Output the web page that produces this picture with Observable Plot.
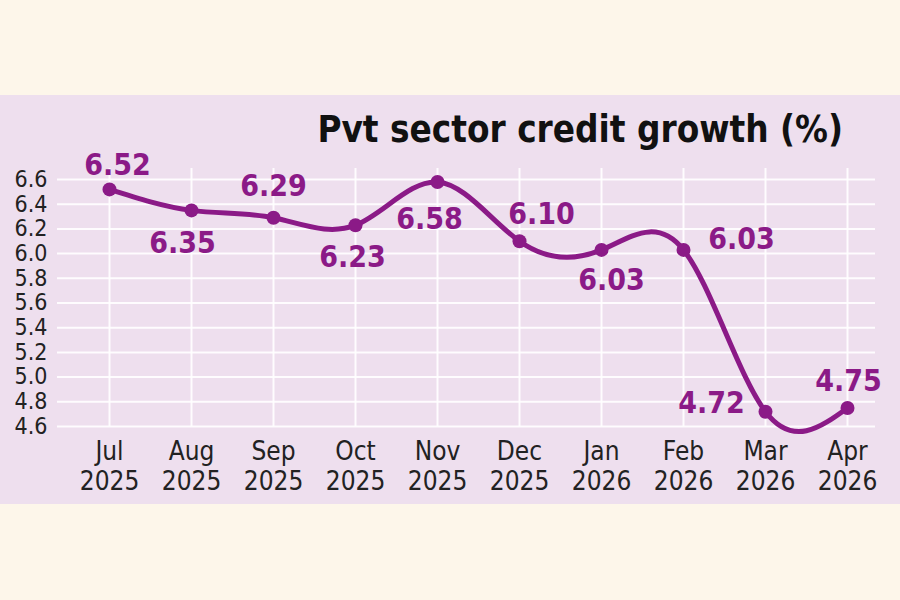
<!DOCTYPE html>
<html>
<head>
<meta charset="utf-8">
<script src="https://cdn.jsdelivr.net/npm/d3@7"></script>
<script src="https://cdn.jsdelivr.net/npm/@observablehq/plot@0.6"></script>
<style>
  html, body { margin: 0; padding: 0; background: #fdf6ea; width: 900px; height: 600px; overflow: hidden; }
  #panel { position: absolute; left: 0; top: 95px; width: 900px; height: 409px; background: #eedfee; }
  #title { position: absolute; right: 57px; top: 17px; font-family: "DejaVu Sans Condensed", "Liberation Sans Narrow", sans-serif; font-weight: bold; font-size: 36.5px; line-height: 1; color: #111; white-space: nowrap; }
  #chart { position: absolute; left: 0; top: 0; }
</style>
</head>
<body>
<div id="panel">
  <div id="chart"></div>
  <div id="title">Pvt sector credit growth (%)</div>
</div>
<script>
const months = ["Jul", "Aug", "Sep", "Oct", "Nov", "Dec", "Jan", "Feb", "Mar", "Apr"];
const years = ["2025", "2025", "2025", "2025", "2025", "2025", "2026", "2026", "2026", "2026"];
const values = [6.52, 6.35, 6.29, 6.23, 6.58, 6.10, 6.03, 6.03, 4.72, 4.75];
const labels = ["6.52", "6.35", "6.29", "6.23", "6.58", "6.10", "6.03", "6.03", "4.72", "4.75"];
const yTicks = [4.6, 4.8, 5.0, 5.2, 5.4, 5.6, 5.8, 6.0, 6.2, 6.4, 6.6];

// label placement (offsets from each point, in px)
const labelOffsets = [[8, -24], [-9, 33], [0, -31], [-3, 32], [-8, 37], [22, -27], [10, 30], [58, -11], [-54, -8], [1, -27]];

const cats = months.map((m, i) => `${m}\n${years[i]}`);
const data = cats.map((c, i) => ({cat: c, value: values[i], label: labels[i]}));

const purple = "#8b1a87";
const font = '"DejaVu Sans Condensed", "Liberation Sans Narrow", sans-serif';

const labelMarks = data.map((d, i) => Plot.text([d], {
  x: "cat", y: "value", text: "label",
  dx: labelOffsets[i][0], dy: labelOffsets[i][1],
  fill: purple, fontSize: 30, fontWeight: "bold", fontFamily: font, lineAnchor: "middle"
}));

const chart = Plot.plot({
  width: 900,
  height: 409,
  marginTop: 84,
  marginBottom: 78,
  marginLeft: 106,
  marginRight: 50,
  style: {background: "transparent", fontFamily: font, overflow: "visible"},
  x: {type: "point", domain: cats, padding: 0, axis: null},
  y: {domain: [4.6, 6.6], axis: null},
  marks: [
    Plot.ruleY(yTicks, {stroke: "#ffffff", strokeWidth: 2, strokeOpacity: 0.9, insetLeft: -49, insetRight: -25}),
    Plot.ruleX(cats, {stroke: "#ffffff", strokeWidth: 2, strokeOpacity: 0.9, insetTop: -11}),
    Plot.axisY({ticks: yTicks, tickSize: 0, tickPadding: 59, fontSize: 23, fill: "#222", tickFormat: d => d.toFixed(1), label: null}),
    Plot.axisX({tickSize: 0, tickPadding: 12.5, fontSize: 26, fill: "#222", lineHeight: 1.154, label: null}),
    Plot.line(data, {x: "cat", y: "value", curve: "natural", stroke: purple, strokeWidth: 5}),
    Plot.dot(data, {x: "cat", y: "value", r: 7, fill: purple}),
    ...labelMarks
  ]
});
document.getElementById("chart").appendChild(chart);
</script>
</body>
</html>
